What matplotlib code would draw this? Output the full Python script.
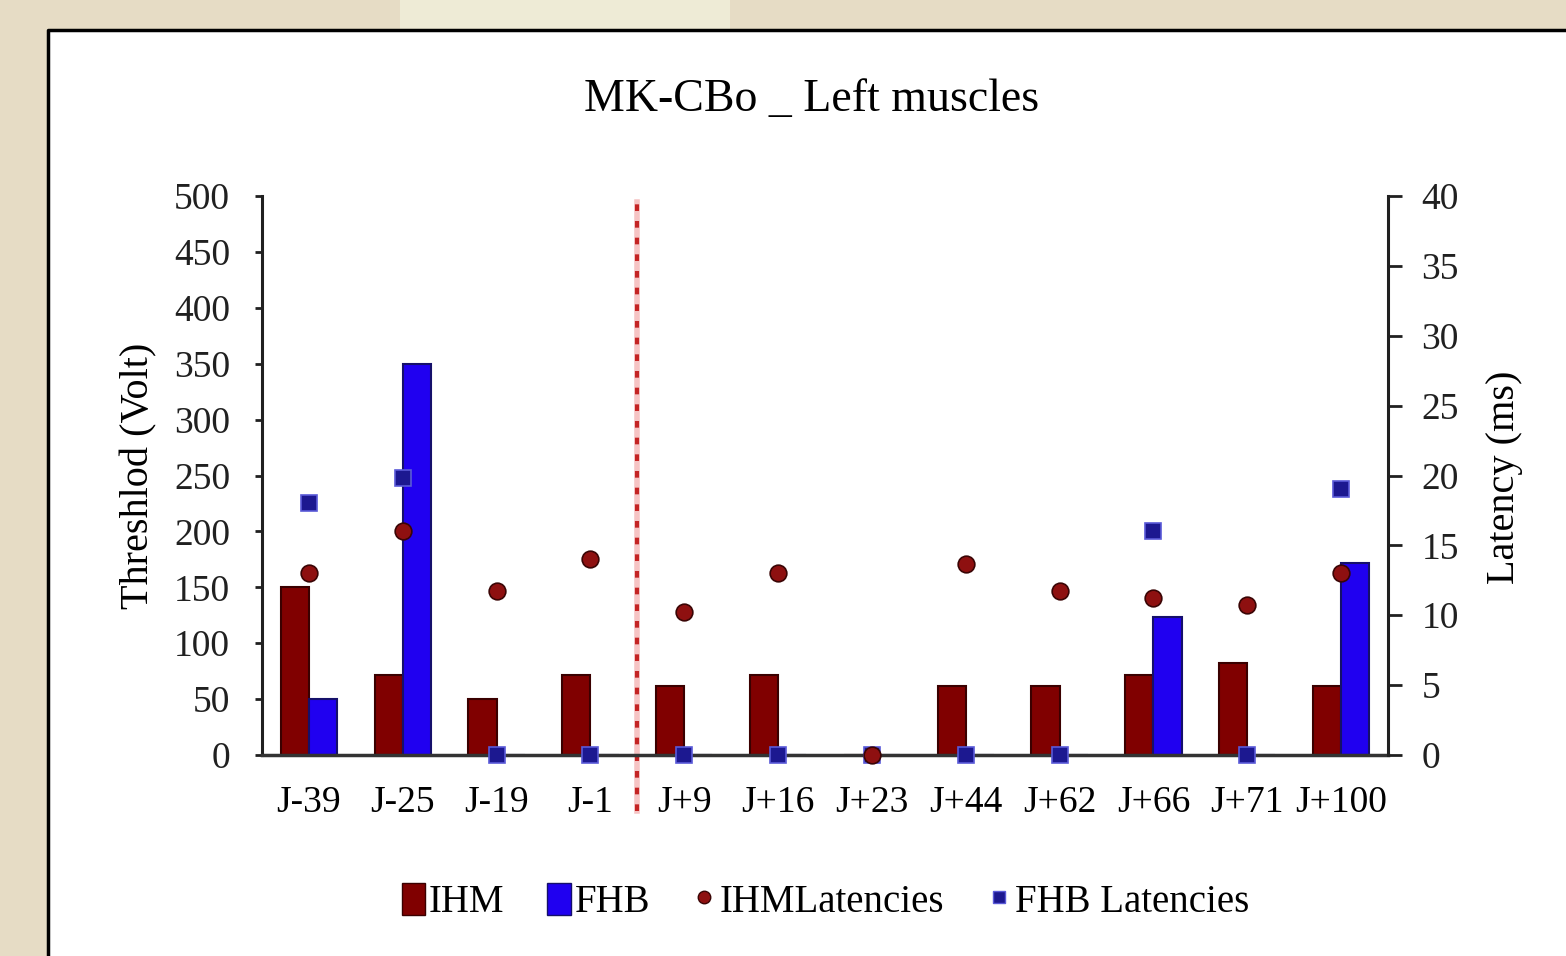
"""Threshold and latency chart for MK-CBo left muscles (IHM / FHB)."""

import matplotlib.pyplot as plt
from matplotlib.lines import Line2D
from matplotlib.patches import Patch, Rectangle

plt.rcParams["font.family"] = ["Liberation Serif", "DejaVu Serif"]

days = ["J-39", "J-25", "J-19", "J-1", "J+9", "J+16", "J+23",
        "J+44", "J+62", "J+66", "J+71", "J+100"]
ihm_threshold = [150, 72, 50, 72, 62, 72, 0, 62, 62, 72, 82, 62]
fhb_threshold = [50, 350, 0, 0, 0, 0, 0, 0, 0, 123, 0, 172]
ihm_latency = [13, 16, 11.7, 14, 10.2, 13, 0, 13.7, 11.7, 11.2, 10.7, 13]
fhb_latency = [18, 19.8, 0, 0, 0, 0, 0, 0, 0, 16, 0, 19]
# dotted marker between J-1 and J+9
event_position = 3.5

IHM_COLOR = "#800000"
FHB_COLOR = "#2000f0"
BG_COLOR = "#e6dcc5"
FONT_SIZE = 27


def draw_background(fig):
    """Beige page with a white panel framed on its top and left edges."""
    fig.patch.set_facecolor(BG_COLOR)
    fig.patches.append(Rectangle((400 / 1566, 1 - 30 / 956), 330 / 1566, 30 / 956,
                                 transform=fig.transFigure, facecolor="#eeebd6",
                                 edgecolor="none", zorder=-10))
    x0, y1 = 48 / 1566, 1 - 30 / 956
    fig.patches.append(Rectangle((x0, 0), 1 - x0, y1, transform=fig.transFigure,
                                 facecolor="white", edgecolor="none", zorder=-10))
    fig.lines.append(Line2D([x0, x0, 1], [0, y1, y1], transform=fig.transFigure,
                            color="black", linewidth=2.5, zorder=-9))


def draw_bars(ax):
    """Threshold bars, IHM on the left and FHB on the right of each day."""
    x = list(range(len(days)))
    width = 0.3
    ax.bar([i - width / 2 for i in x], ihm_threshold, width, color=IHM_COLOR,
           edgecolor="#3a0000", linewidth=1.5, zorder=2)
    ax.bar([i + width / 2 for i in x], fhb_threshold, width, color=FHB_COLOR,
           edgecolor="#15106a", linewidth=1.5, zorder=2)

    ax.set_xlim(-0.5, len(days) - 0.5)
    ax.set_ylim(0, 500)
    ax.set_yticks(range(0, 501, 50))
    ax.set_xticks(x)
    ax.set_xticklabels(days)
    ax.tick_params(axis="x", length=0, pad=22, labelsize=FONT_SIZE)
    ax.tick_params(axis="y", length=5, width=2, pad=18, labelsize=FONT_SIZE,
                   color="#202020", labelcolor="#202020")
    ax.set_ylabel("Threshlod (Volt)", fontsize=29)
    ax.yaxis.set_label_coords(-0.093, 0.5)

    for side in ("top", "right"):
        ax.spines[side].set_visible(False)
    ax.spines["left"].set_linewidth(2.2)
    ax.spines["left"].set_color("#202020")
    ax.spines["bottom"].set_linewidth(2.5)
    ax.spines["bottom"].set_color("#333333")

    # dotted separator, running past the baseline into the tick labels
    ax.plot([event_position, event_position], [-0.1, 0.99],
            transform=ax.get_xaxis_transform(), color="#f6c4c4",
            linewidth=4, clip_on=False, zorder=1)
    ax.plot([event_position, event_position], [-0.1, 0.99],
            transform=ax.get_xaxis_transform(), color="#c42424",
            linewidth=3, linestyle=(0, (1.6, 2.4)), clip_on=False, zorder=1)


def draw_latencies(ax2):
    """Latency markers on the secondary axis."""
    x = list(range(len(days)))
    ax2.plot(x, ihm_latency, linestyle="none", marker="o", markersize=12,
             markerfacecolor="#8e1010", markeredgecolor="#3a0505",
             markeredgewidth=1.2, clip_on=False, zorder=4)
    ax2.plot(x, fhb_latency, linestyle="none", marker="s", markersize=12,
             markerfacecolor="#1c1890", markeredgecolor="#5a5ad8",
             markeredgewidth=1.2, clip_on=False, zorder=3)

    ax2.set_ylim(0, 40)
    ax2.set_yticks(range(0, 41, 5))
    ax2.tick_params(axis="y", length=10, width=2, pad=14, labelsize=FONT_SIZE,
                    color="#202020", labelcolor="#202020")
    ax2.set_ylabel("Latency (ms)", fontsize=29)
    ax2.yaxis.set_label_coords(1.087, 0.496)
    for side in ("top", "left", "bottom"):
        ax2.spines[side].set_visible(False)
    ax2.spines["right"].set_linewidth(2.2)
    ax2.spines["right"].set_color("#202020")


def draw_legend(fig):
    handles = [
        Patch(facecolor=IHM_COLOR, edgecolor="#3a0000"),
        Patch(facecolor=FHB_COLOR, edgecolor="#15106a"),
        Line2D([], [], linestyle="none", marker="o", markersize=9,
               markerfacecolor="#8e1010", markeredgecolor="#3a0505"),
        Line2D([], [], linestyle="none", marker="s", markersize=9,
               markerfacecolor="#1c1890", markeredgecolor="#5a5ad8"),
    ]
    labels = ["IHM", "FHB", "IHMLatencies", "FHB Latencies"]
    fig.legend(handles, labels, loc="center", bbox_to_anchor=(0.527, 0.0565),
               ncol=4, frameon=False, fontsize=28, handlelength=0.6,
               handleheight=0.9, handletextpad=0.1, columnspacing=1.1,
               borderaxespad=0)


def main():
    fig = plt.figure(figsize=(15.66, 9.56), dpi=100)
    draw_background(fig)

    ax = fig.add_axes([262 / 1566, 1 - 755 / 956, 1126 / 1566, 559 / 956])
    ax.set_facecolor("none")
    ax2 = ax.twinx()

    draw_bars(ax)
    draw_latencies(ax2)
    draw_legend(fig)

    fig.text(812 / 1566, 1 - 100 / 956, "MK-CBo _ Left muscles",
             ha="center", va="center", fontsize=33)

    fig.savefig("out.png", dpi=100)


if __name__ == "__main__":
    main()
